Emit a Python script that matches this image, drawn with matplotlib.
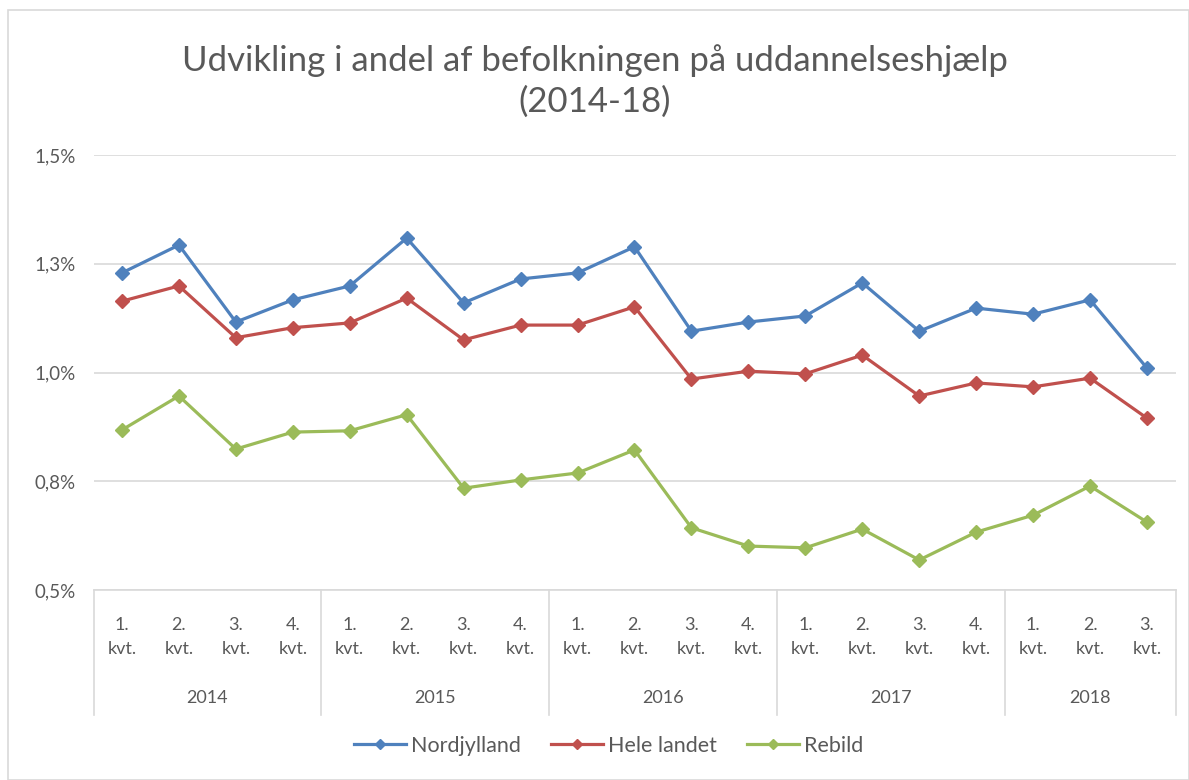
import matplotlib
matplotlib.use("Agg")
import matplotlib.pyplot as plt
import matplotlib.transforms as mtransforms
from matplotlib.patches import Rectangle

# ---- data ----
years = ["2014", "2015", "2016", "2017", "2018"]
quarters_per_year = [4, 4, 4, 4, 3]
quarter_labels = ["1.\nkvt.", "2.\nkvt.", "3.\nkvt.", "4.\nkvt."]

nordjylland = [1.229, 1.293, 1.116, 1.167, 1.199, 1.309, 1.160, 1.215, 1.229, 1.289,
               1.095, 1.116, 1.130, 1.206, 1.095, 1.148, 1.134, 1.167, 1.010]
hele_landet = [1.164, 1.199, 1.080, 1.103, 1.114, 1.171, 1.075, 1.109, 1.109, 1.151,
               0.985, 1.003, 0.997, 1.040, 0.946, 0.976, 0.967, 0.987, 0.895]
rebild = [0.868, 0.946, 0.824, 0.863, 0.866, 0.903, 0.734, 0.753, 0.769, 0.822,
          0.643, 0.601, 0.597, 0.640, 0.569, 0.633, 0.672, 0.739, 0.656]

series_names = ["Nordjylland", "Hele landet", "Rebild"]
series_colors = ["#4F81BD", "#C0504D", "#9BBB59"]

y_ticks = [0.5, 0.75, 1.0, 1.25, 1.5]
y_tick_labels = ["0,5%", "0,8%", "1,0%", "1,3%", "1,5%"]

title = "Udvikling i andel af befolkningen på uddannelseshjælp\n(2014-18)"

# ---- figure ----
W, H = 1189, 780
fig = plt.figure(figsize=(W / 100, H / 100), dpi=100)
plt.rcParams['font.family'] = ['Lato', 'DejaVu Sans']
text_color = "#595959"
grid_color = "#D9D9D9"

ax = fig.add_axes([93.5 / W, 1 - 590 / H, (1175.5 - 93.5) / W, (590 - 155) / H])

n = len(nordjylland)
xs = list(range(1, n + 1))
for vals, name, col in zip([nordjylland, hele_landet, rebild], series_names, series_colors):
    ax.plot(xs, vals, color=col, lw=2.3, marker='D', markersize=7.5, label=name,
            solid_joinstyle='round', zorder=3)

ax.set_xlim(0.5, n + 0.5)
ax.set_ylim(0.5, 1.5)
ax.set_yticks(y_ticks)
ax.set_yticklabels(y_tick_labels, color=text_color, fontsize=13.5)
ax.tick_params(axis='y', length=0, pad=13)
ax.set_xticks([])
for s in ["left", "right", "top"]:
    ax.spines[s].set_visible(False)
ax.spines["bottom"].set_color(grid_color)
ax.spines["bottom"].set_linewidth(1.2)
ax.grid(axis='y', color=grid_color, lw=1.2, zorder=0)
ax.set_axisbelow(True)

# multi-level category axis
trans = mtransforms.blended_transform_factory(ax.transData, ax.transAxes)
ax_h = 590 - 155
def ax_y(px):
    return (590 - px) / ax_h

pos = 1
bounds = [0.5]
for yr, nq in zip(years, quarters_per_year):
    for q in range(nq):
        ax.text(pos + q, ax_y(637), quarter_labels[q], transform=trans, ha='center',
                va='center', fontsize=13, color=text_color, linespacing=1.55)
    ax.text(pos + (nq - 1) / 2, ax_y(698), yr, transform=trans, ha='center', va='center',
            fontsize=13, color=text_color)
    pos += nq
    bounds.append(pos - 0.5)
for b in bounds:
    ax.plot([b, b], [0, ax_y(715)], transform=trans, color=grid_color, lw=1.2, clip_on=False)

# title
fig.text(0.5, 1 - 81 / H, title, ha='center', va='center', fontsize=25,
         color=text_color, linespacing=1.35)

# legend
leg = fig.legend(loc='center', bbox_to_anchor=(609 / W, 1 - 746 / H), ncol=3, frameon=False,
                 fontsize=15.5, handlelength=2.4, columnspacing=1.4, handletextpad=0.25,
                 markerscale=0.7)
for t in leg.get_texts():
    t.set_color(text_color)

# outer border
fig.patches.append(Rectangle((8 / W, 0), 1 - 8 / W, 1 - 10 / H, transform=fig.transFigure,
                             fill=False, edgecolor=grid_color, lw=1.2))

fig.savefig("out.png", dpi=100, facecolor="white")
